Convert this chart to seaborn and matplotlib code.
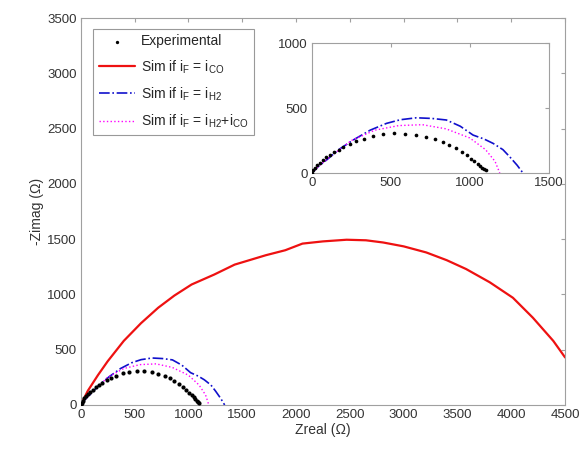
import matplotlib
matplotlib.use("Agg")
import matplotlib.pyplot as plt
import seaborn as sns
import pandas as pd

# experimental points (black dots)
exp_x = [0, 10, 20, 35, 50, 70, 90, 115, 140, 170, 200, 240, 280, 330, 390, 450, 520,
         590, 660, 720, 780, 830, 870, 910, 950, 980, 1010, 1030, 1050, 1065, 1080, 1090, 1100]
exp_y = [0, 20, 40, 60, 80, 100, 120, 140, 160, 180, 200, 225, 245, 265, 285, 298, 305,
         303, 295, 280, 260, 240, 215, 190, 160, 135, 110, 90, 70, 55, 40, 28, 20]

# sim i_F = i_CO (red)
co_x = [0, 65, 160, 250, 400, 560, 720, 870, 1030, 1240, 1430, 1720, 1900, 2060, 2250,
        2470, 2650, 2810, 3000, 3210, 3400, 3580, 3800, 4015, 4200, 4390, 4500]
co_y = [0, 127, 270, 395, 580, 740, 880, 990, 1090, 1180, 1270, 1355, 1400, 1460, 1480,
        1495, 1490, 1470, 1435, 1380, 1310, 1230, 1110, 970, 790, 580, 430]

# sim i_F = i_H2 (blue)
h2_x = [0, 40, 93, 170, 262, 370, 473, 560, 662, 760, 852, 940, 1021, 1090, 1148, 1210, 1253, 1300, 1337]
h2_y = [0, 50, 100, 180, 254, 330, 382, 410, 425, 420, 408, 360, 292, 262, 228, 180, 125, 60, 0]

# sim i_F = i_H2 + i_CO (magenta)
mix_x = [0, 40, 100, 250, 400, 550, 700, 850, 1000, 1100, 1160, 1190]
mix_y = [0, 50, 110, 250, 330, 365, 372, 340, 270, 180, 90, 0]

sns.set_style("white")
plt.rcParams['font.family'] = ['Liberation Sans', 'DejaVu Sans']
plt.rcParams['mathtext.fontset'] = 'custom'
plt.rcParams['mathtext.rm'] = 'Liberation Sans'
plt.rcParams['mathtext.it'] = 'Liberation Sans'

exp_df = pd.DataFrame({'x': exp_x, 'y': exp_y})
co_df = pd.DataFrame({'x': co_x, 'y': co_y})
h2_df = pd.DataFrame({'x': h2_x, 'y': h2_y})
mix_df = pd.DataFrame({'x': mix_x, 'y': mix_y})


def draw(ax, ms=9, legend=False, with_co=True):
    sns.scatterplot(data=exp_df, x='x', y='y', ax=ax, color='k', s=ms, linewidth=0,
                    label='Experimental' if legend else None, zorder=5)
    if with_co:
        sns.lineplot(data=co_df, x='x', y='y', ax=ax, sort=False, color='#ee1111', lw=1.6,
                     label=r'Sim if i$_F$ = i$_{CO}$' if legend else None)
    sns.lineplot(data=h2_df, x='x', y='y', ax=ax, sort=False, color='#1010cc', lw=1.2,
                 linestyle='-.', label=r'Sim if i$_F$ = i$_{H2}$' if legend else None)
    sns.lineplot(data=mix_df, x='x', y='y', ax=ax, sort=False, color='#ff00ff', lw=1.0,
                 linestyle=':', label=r'Sim if i$_F$ = i$_{H2}$+i$_{CO}$' if legend else None)


def style(ax):
    for s in ax.spines.values():
        s.set_color('#a0a0a0')
        s.set_linewidth(0.8)
    ax.tick_params(direction='in', length=3, color='#a0a0a0', labelsize=9.5,
                   labelcolor='#333333', top=True, right=True, pad=3)


fig = plt.figure(figsize=(5.85, 4.53), dpi=100)
ax = fig.add_axes([0.138, 0.106, 0.828, 0.854])
draw(ax, legend=True)
ax.set_xlim(0, 4500)
ax.set_ylim(0, 3500)
ax.set_xticks(range(0, 4501, 500))
ax.set_yticks(range(0, 3501, 500))
ax.set_xlabel('Zreal (Ω)', fontsize=10, color='#333333', labelpad=1)
ax.set_ylabel('-Zimag (Ω)', fontsize=10, color='#333333', labelpad=2)
style(ax)
leg = ax.legend(loc='upper left', bbox_to_anchor=(0.012, 0.99), fontsize=10, frameon=True,
                fancybox=False, edgecolor='#808080', handlelength=2.6, borderpad=0.4,
                labelspacing=0.7, handletextpad=0.4, markerscale=0.8)
leg.get_frame().set_linewidth(0.8)

ins = fig.add_axes([0.533, 0.618, 0.405, 0.287])
draw(ins, ms=7, with_co=False)
ins.set_xlim(0, 1500)
ins.set_ylim(0, 1000)
ins.set_xticks([0, 500, 1000, 1500])
ins.set_yticks([0, 500, 1000])
ins.set_xlabel('')
ins.set_ylabel('')
style(ins)

fig.savefig('out.png', dpi=100)
